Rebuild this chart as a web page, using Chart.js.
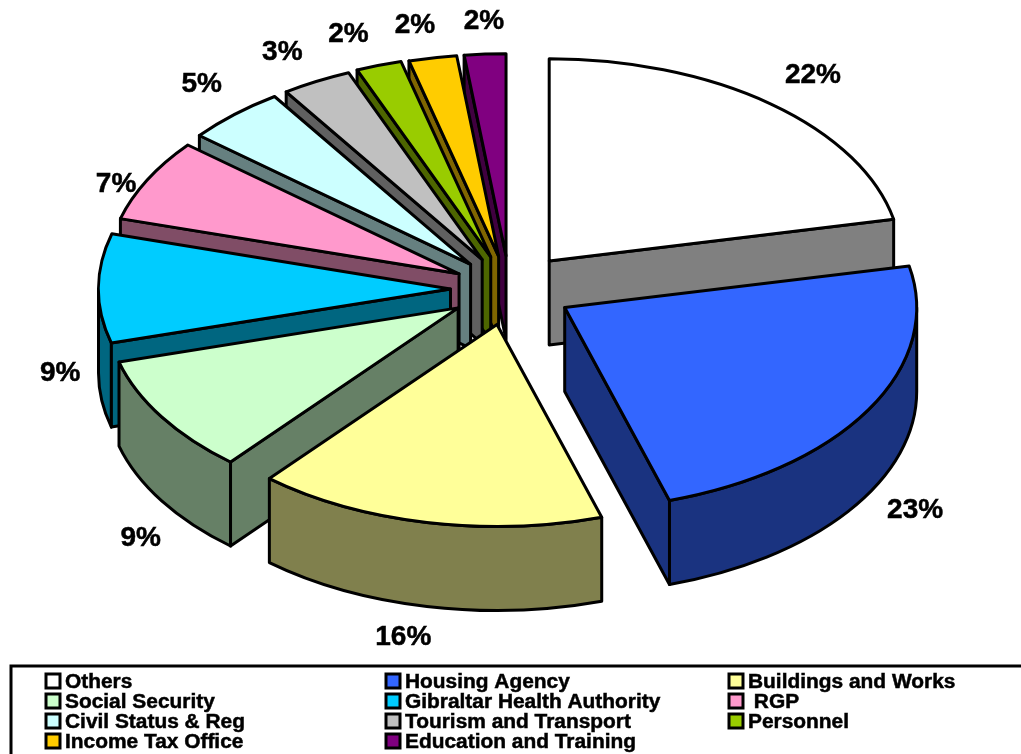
<!DOCTYPE html>
<html>
<head>
<meta charset="utf-8">
<style>
html,body{margin:0;padding:0;background:#fff;overflow:hidden}
#wrap{position:relative;width:1021px;height:754px}
</style>
<script src="https://cdn.jsdelivr.net/npm/chart.js@4/dist/chart.umd.min.js"></script>
</head>
<body>
<div id="wrap"><canvas id="c" width="1021" height="754"></canvas></div>
<script>
const categories = ['Others','Housing Agency','Buildings and Works','Social Security','Gibraltar Health Authority',' RGP','Civil Status & Reg','Tourism and Transport','Personnel','Income Tax Office','Education and Training'];
const shares = [21.7,23.49,16,9.49,8.72,6.6,4.6,3.2,2.1,2.2,1.9];
const sliceColors = ['#FFFFFF','#3366FF','#FFFF99','#CCFFCC','#00CCFF','#FF99CC','#CCFFFF','#C0C0C0','#99CC00','#FFCC00','#800080'];
const wallColors = ['#808080','#1A3380','#80804D','#668066','#006680','#804D66','#668080','#606060','#4D6600','#806600','#400040'];
const sliceExplode = [63,64,63,61,59,57,58,58,59,58,58];
const labelNudgeX = [2,-7,-11,34,29,30,13,-2,-9,-5,3];
const labelNudgeY = [-1,-2,-5,17,85,23,-1,6,6,6,6];

const TILT = 0.574, DEPTH = 84, RADIUS = 352;
const LABEL_F = 1.18, EDGE = 3;
const LABEL_EXPLODE = 63;

function heavyText(ctx, text, x, y) {
  ctx.fillText(text, x, y);
  ctx.lineWidth = 0.5;
  ctx.strokeStyle = '#000';
  ctx.strokeText(text, x, y);
}

const piePlugin = {
  id: 'tiltedPie',
  beforeDatasetsDraw(chart) {
    const ctx = chart.ctx;
    const arcs = chart.getDatasetMeta(0).data.map((el, i) => {
      const mid = (el.startAngle + el.endAngle) / 2;
      return {el, i, mid};
    }).sort((a, b) => Math.sin(a.mid) * sliceExplode[a.i] - Math.sin(b.mid) * sliceExplode[b.i]);

    for (const {el, i, mid} of arcs) {
      const R = el.outerRadius, Ry = R * TILT;
      const ax = el.x + Math.cos(mid) * sliceExplode[i];
      const ay = el.y + Math.sin(mid) * sliceExplode[i] * TILT;
      const a0 = el.startAngle, a1 = el.endAngle;
      ctx.save();
      ctx.lineWidth = EDGE;
      ctx.lineJoin = 'round';
      ctx.strokeStyle = '#000';
      ctx.fillStyle = wallColors[i];

      const lo = Math.max(a0, 0), hi = Math.min(a1, Math.PI);
      if (hi > lo) {
        ctx.beginPath();
        ctx.ellipse(ax, ay, R, Ry, 0, lo, hi);
        ctx.ellipse(ax, ay + DEPTH, R, Ry, 0, hi, lo, true);
        ctx.closePath();
        ctx.fill();
        ctx.stroke();
      }
      const quad = a => {
        const ox = ax + Math.cos(a) * R, oy = ay + Math.sin(a) * Ry;
        ctx.beginPath();
        ctx.moveTo(ax, ay);
        ctx.lineTo(ox, oy);
        ctx.lineTo(ox, oy + DEPTH);
        ctx.lineTo(ax, ay + DEPTH);
        ctx.closePath();
        ctx.fill();
        ctx.stroke();
      };
      if (Math.cos(a0) < -1e-6) quad(a0);
      if (Math.cos(a1) > 1e-6) quad(a1);
      ctx.restore();

      ctx.save();
      ctx.translate(ax, ay);
      ctx.scale(1, TILT);
      ctx.translate(-el.x, -el.y);
      el.draw(ctx);
      ctx.restore();

      ctx.save();
      ctx.lineWidth = EDGE;
      ctx.lineJoin = 'round';
      ctx.strokeStyle = '#000';
      ctx.beginPath();
      ctx.moveTo(ax, ay);
      ctx.ellipse(ax, ay, R, Ry, 0, a0, a1);
      ctx.closePath();
      ctx.stroke();
      ctx.restore();
    }
    return false;
  },
  afterDraw(chart) {
    const ctx = chart.ctx;
    const meta = chart.getDatasetMeta(0);
    ctx.save();
    ctx.fillStyle = '#000';
    ctx.textAlign = 'center';
    ctx.textBaseline = 'middle';
    ctx.font = 'bold 28px "Liberation Sans", Arial, sans-serif';
    meta.data.forEach((el, i) => {
      const mid = (el.startAngle + el.endAngle) / 2;
      const R = el.outerRadius, Ry = R * TILT;
      const ax = el.x + Math.cos(mid) * LABEL_EXPLODE;
      const ay = el.y + Math.sin(mid) * LABEL_EXPLODE * TILT;
      const x = ax + Math.cos(mid) * R * LABEL_F + labelNudgeX[i];
      const y = ay + Math.sin(mid) * Ry * LABEL_F + (Math.sin(mid) > 0 ? DEPTH : 0) + labelNudgeY[i];
      heavyText(ctx, Math.round(shares[i]) + '%', x, y);
    });
    ctx.restore();

    const colX = [46, 386, 729], rowY = 681, rowH = 20, sw = 14;
    ctx.save();
    ctx.lineWidth = 3;
    ctx.strokeStyle = '#000';
    ctx.beginPath();
    ctx.moveTo(11, 756);
    ctx.lineTo(11, 666);
    ctx.lineTo(1023, 666);
    ctx.stroke();
    ctx.font = 'bold 20.9px "Liberation Sans", Arial, sans-serif';
    ctx.textAlign = 'left';
    ctx.textBaseline = 'middle';
    categories.forEach((name, i) => {
      const col = i % 3, row = Math.floor(i / 3);
      const x = colX[col], y = rowY + row * rowH;
      ctx.fillStyle = sliceColors[i];
      ctx.fillRect(x, y - sw / 2, sw, sw);
      ctx.lineWidth = 3;
      ctx.strokeStyle = '#000';
      ctx.strokeRect(x, y - sw / 2, sw, sw);
      ctx.fillStyle = '#000';
      heavyText(ctx, name, x + 19, y + 1);
    });
    ctx.restore();
  }
};

new Chart(document.getElementById('c'), {
  type: 'pie',
  data: {
    labels: categories,
    datasets: [{data: shares, backgroundColor: sliceColors, borderWidth: 0}]
  },
  options: {
    responsive: false,
    animation: false,
    events: [],
    radius: RADIUS,
    layout: {padding: {left: 1, right: 3, top: 0, bottom: 176}},
    plugins: {legend: {display: false}, tooltip: {enabled: false}}
  },
  plugins: [piePlugin]
});
</script>
</body>
</html>
